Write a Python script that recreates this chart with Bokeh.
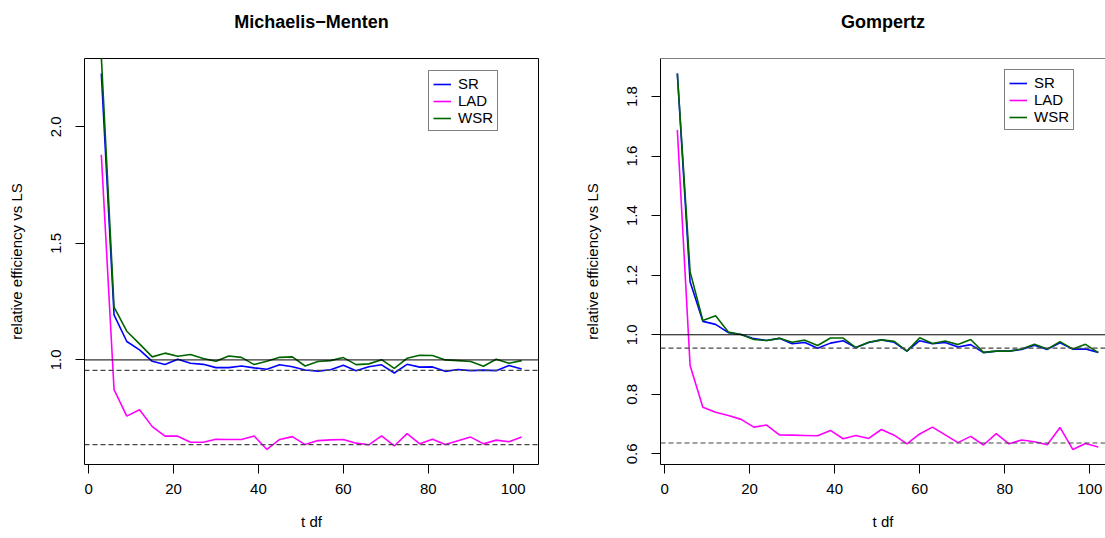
import math
from bokeh.plotting import figure
from bokeh.models import Range1d, FixedTicker, Span, Legend, LegendItem, Title
from bokeh.layouts import row
from bokeh.embed import file_html
from bokeh.resources import INLINE

# ---------------- data ----------------
t_df = [3, 6, 9, 12, 15, 18, 21, 24, 27, 30, 33, 36, 39, 42, 45, 48, 51,
        54, 57, 60, 63, 66, 69, 72, 75, 78, 81, 84, 87, 90, 93, 96, 99, 102]

mm_sr = [2.228, 1.193, 1.079, 1.043, 0.994, 0.980, 1.003, 0.986, 0.981, 0.967,
         0.967, 0.974, 0.966, 0.960, 0.979, 0.971, 0.957, 0.952, 0.958, 0.977,
         0.954, 0.971, 0.979, 0.944, 0.981, 0.969, 0.970, 0.951, 0.959, 0.954,
         0.956, 0.954, 0.976, 0.961]
mm_lad = [1.880, 0.873, 0.759, 0.786, 0.714, 0.673, 0.673, 0.647, 0.647, 0.660,
          0.659, 0.659, 0.674, 0.616, 0.659, 0.671, 0.637, 0.654, 0.657, 0.659,
          0.643, 0.636, 0.674, 0.631, 0.684, 0.640, 0.660, 0.637, 0.653, 0.669,
          0.640, 0.656, 0.649, 0.669]
mm_wsr = [2.300, 1.226, 1.123, 1.069, 1.013, 1.029, 1.016, 1.023, 1.006, 0.994,
          1.017, 1.011, 0.980, 0.994, 1.011, 1.013, 0.974, 0.993, 0.997, 1.010,
          0.980, 0.983, 1.001, 0.964, 1.007, 1.020, 1.019, 1.000, 0.997, 0.993,
          0.973, 1.003, 0.986, 0.997]

gz_sr = [1.877, 1.178, 1.045, 1.035, 1.007, 1.001, 0.987, 0.981, 0.988, 0.970,
         0.974, 0.955, 0.972, 0.980, 0.957, 0.974, 0.983, 0.975, 0.945, 0.980,
         0.970, 0.974, 0.959, 0.967, 0.940, 0.945, 0.945, 0.951, 0.965, 0.951,
         0.973, 0.952, 0.952, 0.941]
gz_lad = [1.688, 0.897, 0.757, 0.740, 0.729, 0.716, 0.690, 0.697, 0.664, 0.663,
          0.662, 0.661, 0.679, 0.651, 0.662, 0.652, 0.682, 0.663, 0.634, 0.667,
          0.690, 0.664, 0.638, 0.659, 0.630, 0.668, 0.634, 0.647, 0.641, 0.631,
          0.689, 0.615, 0.635, 0.623]
gz_wsr = [1.877, 1.212, 1.048, 1.064, 1.009, 1.001, 0.984, 0.981, 0.988, 0.975,
          0.982, 0.964, 0.989, 0.989, 0.957, 0.975, 0.983, 0.978, 0.945, 0.990,
          0.971, 0.979, 0.967, 0.984, 0.941, 0.945, 0.945, 0.952, 0.968, 0.952,
          0.977, 0.952, 0.968, 0.940]

series_names = ["SR", "LAD", "WSR"]
series_colors = ["#0000FF", "#FF00FF", "#006400"]

x_ticks = [0, 20, 40, 60, 80, 100]
mm_y_ticks = [1.0, 1.5, 2.0]
mm_y_labels = ["1.0", "1.5", "2.0"]
gz_y_ticks = [0.6, 0.8, 1.0, 1.2, 1.4, 1.6, 1.8]
gz_y_labels = ["0.6", "0.8", "1.0", "1.2", "1.4", "1.6", "1.8"]

ref_solid = 1.0
ref_dashed = [3 / math.pi, 2 / math.pi]

FONT = "Liberation Sans"


def r_range(lo, hi):
    pad = 0.04 * (hi - lo)
    return lo - pad, hi + pad


def make_panel(title, sr, lad, wsr, yticks, ylabels, width, border_left,
               border_right, clip_right, legend_loc):
    x0, x1 = r_range(min(t_df), max(t_df))
    if clip_right is not None:
        x1 = clip_right
    y0, y1 = r_range(min(lad), max(sr))
    p = figure(width=width, height=538, output_backend="svg", title=None,
               toolbar_location=None, x_range=Range1d(x0, x1),
               y_range=Range1d(y0, y1),
               min_border_left=border_left, min_border_right=border_right,
               min_border_top=58, min_border_bottom=74)
    # spacer panel between frame and title (stacked outward from the frame)
    p.add_layout(Title(text=" ", text_font=FONT, text_font_size="10px",
                       standoff=8), "above")
    p.add_layout(Title(text=title, align="center", text_font=FONT,
                       text_font_size="18px", text_font_style="bold",
                       text_color="black", standoff=12), "above")

    p.grid.visible = False
    p.background_fill_color = "white"
    p.border_fill_color = "white"

    for ax in (p.xaxis[0], p.yaxis[0]):
        ax.major_tick_in = 0
        ax.major_tick_out = 9
        ax.minor_tick_line_color = None
        ax.major_tick_line_color = "black"
        ax.major_label_text_font = FONT
        ax.major_label_text_font_size = "15px"
        ax.major_label_text_color = "black"
        ax.axis_label_text_font = FONT
        ax.axis_label_text_font_size = "15px"
        ax.axis_label_text_font_style = "normal"
        ax.axis_label_text_color = "black"

    p.xaxis.ticker = FixedTicker(ticks=x_ticks)
    p.xaxis.axis_label = "t df"
    p.xaxis.major_label_standoff = 10
    p.xaxis.axis_label_standoff = 16

    p.yaxis.ticker = FixedTicker(ticks=yticks)
    p.yaxis.major_label_overrides = {t: l for t, l in zip(yticks, ylabels)}
    p.yaxis.major_label_orientation = "vertical"
    p.yaxis.axis_label = "relative efficiency vs LS"
    p.yaxis.major_label_standoff = 14
    p.yaxis.axis_label_standoff = 24

    if clip_right is None:
        p.outline_line_color = "black"
        p.outline_line_width = 1
        p.outline_line_alpha = 1
        p.xaxis.axis_line_color = None
        p.yaxis.axis_line_color = None
    else:
        p.outline_line_color = None
        p.xaxis.axis_line_color = "black"
        p.yaxis.axis_line_color = "black"
        p.add_layout(Span(location=y1, dimension="width",
                          line_color="black", line_width=1))

    p.add_layout(Span(location=ref_solid, dimension="width",
                      line_color="black", line_width=1))
    for lv in ref_dashed:
        p.add_layout(Span(location=lv, dimension="width", line_color="#444444",
                          line_width=1.2, line_dash="5 3"))

    renderers = []
    for ys, col in zip([sr, lad, wsr], series_colors):
        renderers.append(p.line(t_df, ys, line_color=col, line_width=1.6))

    legend = Legend(items=[LegendItem(label=n, renderers=[r])
                           for n, r in zip(series_names, renderers)],
                    location=legend_loc,
                    border_line_color="black", border_line_width=1,
                    background_fill_color="white", background_fill_alpha=1,
                    padding=4, spacing=0, margin=0,
                    glyph_width=18, glyph_height=14, label_height=14,
                    label_standoff=7,
                    label_text_font=FONT, label_text_font_size="15px",
                    label_text_color="black")
    p.add_layout(legend)
    return p


p1 = make_panel("Michaelis\u2212Menten", mm_sr, mm_lad, mm_wsr,
                mm_y_ticks, mm_y_labels, 570, 84, 32, None, (344, 333))
p2 = make_panel("Gompertz", gz_sr, gz_lad, gz_wsr,
                gz_y_ticks, gz_y_labels, 535, 90, 0, 103.7, (344, 334))

layout = row(p1, p2)
with open("out.html", "w") as f:
    f.write(file_html(layout, INLINE))
